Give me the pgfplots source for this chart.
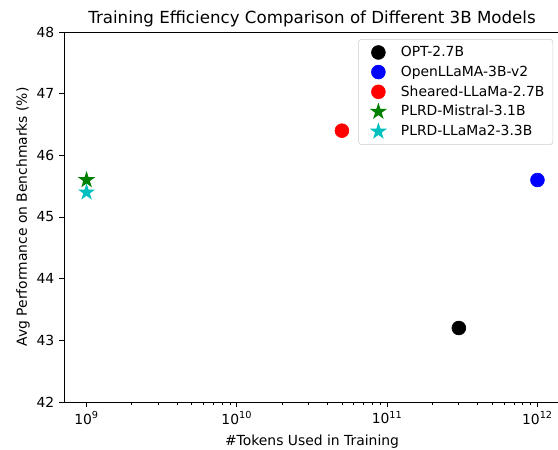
\documentclass[border=0pt]{standalone}
\usepackage{fontspec}
\setmainfont{DejaVu Sans}
\usepackage{pgfplots}
\pgfplotsset{compat=1.18}
\definecolor{mgreen}{rgb}{0,0.5,0}
\definecolor{mcyan}{rgb}{0,0.75,0.75}
\pgfdeclareplotmark{fstar}{%
  \pgfpathmoveto{\pgfqpointpolar{90}{\pgfplotmarksize}}%
  \pgfpathlineto{\pgfqpointpolar{126}{0.382\pgfplotmarksize}}%
  \pgfpathlineto{\pgfqpointpolar{162}{\pgfplotmarksize}}%
  \pgfpathlineto{\pgfqpointpolar{198}{0.382\pgfplotmarksize}}%
  \pgfpathlineto{\pgfqpointpolar{234}{\pgfplotmarksize}}%
  \pgfpathlineto{\pgfqpointpolar{270}{0.382\pgfplotmarksize}}%
  \pgfpathlineto{\pgfqpointpolar{306}{\pgfplotmarksize}}%
  \pgfpathlineto{\pgfqpointpolar{342}{0.382\pgfplotmarksize}}%
  \pgfpathlineto{\pgfqpointpolar{18}{\pgfplotmarksize}}%
  \pgfpathlineto{\pgfqpointpolar{54}{0.382\pgfplotmarksize}}%
  \pgfpathclose
  \pgfusepathqfill}
\begin{document}
\begin{tikzpicture}[x=0.72pt,y=0.72pt]
\useasboundingbox (-64,-48) rectangle (494,402);
\begin{axis}[
  at={(0,0)}, anchor=south west,
  scale only axis,
  width=357.12pt, height=266.4pt,
  xmode=log,
  xmin=7.08e8, xmax=1.413e12,
  ymin=42, ymax=48,
  ytick={42,43,44,45,46,47,48},
  xtick={1e9,1e10,1e11,1e12},
  xticklabels={10\textsuperscript{9},10\textsuperscript{10},10\textsuperscript{11},10\textsuperscript{12}},
  tick align=outside,
  xtick pos=bottom, ytick pos=left,
  major tick length=3.5pt, minor tick length=2pt,
  tick style={black, line width=0.6pt},
  axis line style={line width=0.6pt},
  font=\fontsize{10}{12}\selectfont,
  ticklabel style={font=\fontsize{10}{12}\selectfont},
  /pgf/number format/assume math mode=true,
  title={Training Efficiency Comparison of Different 3B Models},
  title style={font=\fontsize{12}{14}\selectfont, yshift=-6pt},
  xlabel={\#Tokens Used in Training},
  ylabel={Avg Performance on Benchmarks (\%)},
  xlabel style={yshift=-1pt},
  ylabel style={yshift=-2pt},
  legend cell align=left,
  legend style={at={(0.986,0.981)}, anchor=north east, draw=black!20, rounded corners=2pt,
    font=\fontsize{10}{12}\selectfont, row sep=1.2pt, inner xsep=4pt, inner ysep=3pt},
  legend image code/.code={\path (0pt,0pt) (24pt,0pt); \draw[#1] plot coordinates {(10pt,0pt)};},
]
\addplot[only marks, mark=*, mark size=5pt, draw=black, fill=black] coordinates {(3e11,43.2)};
\addlegendentry{OPT-2.7B}
\addplot[only marks, mark=*, mark size=5pt, draw=blue, fill=blue] coordinates {(1e12,45.6)};
\addlegendentry{OpenLLaMA-3B-v2}
\addplot[only marks, mark=*, mark size=5pt, draw=red, fill=red] coordinates {(5e10,46.4)};
\addlegendentry{Sheared-LLaMa-2.7B}
\addplot[only marks, mark=fstar, mark size=6.5pt, draw=mgreen, fill=mgreen] coordinates {(1e9,45.6)};
\addlegendentry{PLRD-Mistral-3.1B}
\addplot[only marks, mark=fstar, mark size=6.5pt, draw=mcyan, fill=mcyan] coordinates {(1e9,45.4)};
\addlegendentry{PLRD-LLaMa2-3.3B}
\end{axis}
\end{tikzpicture}
\end{document}
